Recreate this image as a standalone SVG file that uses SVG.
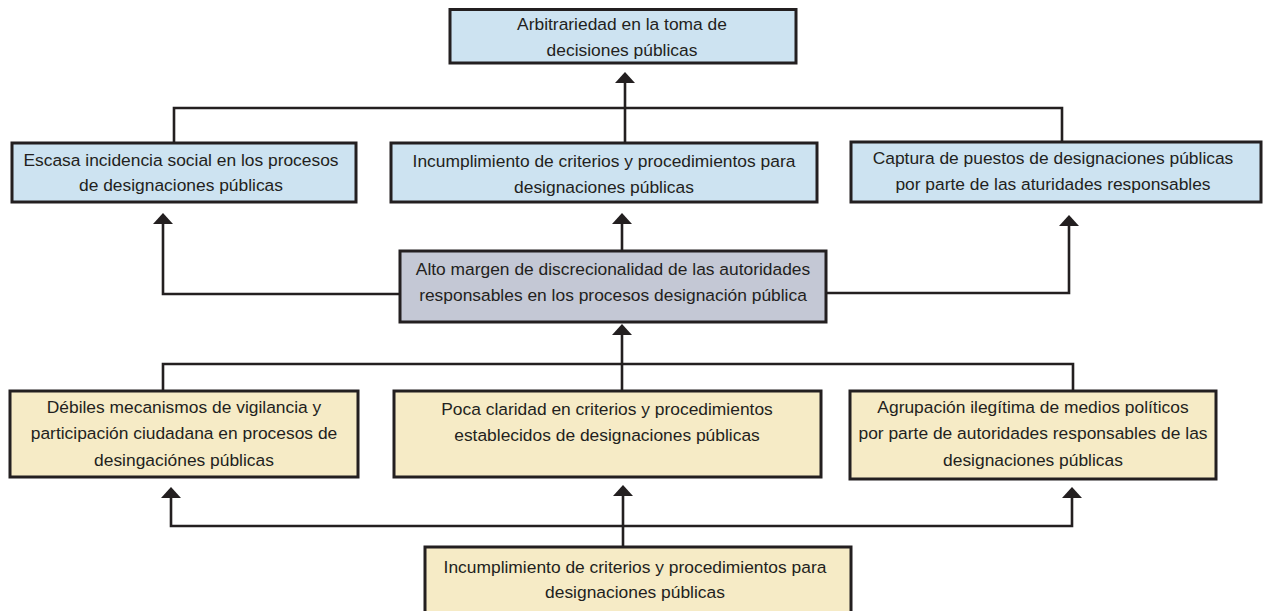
<svg xmlns="http://www.w3.org/2000/svg" width="1263" height="611" viewBox="0 0 1263 611">
<defs>
<style>
.box{stroke:#231f20;stroke-width:3}
.blue{fill:#cde3f1}
.gray{fill:#c4c8d5}
.yel{fill:#f6ebc6}
text{font-family:"Liberation Sans",Arial,sans-serif;font-size:17.4px;fill:#231f20;text-anchor:middle}
.con{fill:none;stroke:#231f20;stroke-width:2.6}
</style>
<marker id="ah" viewBox="0 0 11 20" refX="8" refY="10" markerWidth="11" markerHeight="20" markerUnits="userSpaceOnUse" orient="auto-start-reverse">
<path d="M0,0 L11,10 L0,20 Z" fill="#231f20"/>
</marker>
</defs>
<rect width="1263" height="611" fill="#ffffff"/>
<g id="connectors">
<path class="con" d="M174,143 V108 H1062 V143"/>
<path class="con" d="M625,143 V75" marker-end="url(#ah)"/>
<path class="con" d="M622,251 V216" marker-end="url(#ah)"/>
<path class="con" d="M400,294 H163 V216" marker-end="url(#ah)"/>
<path class="con" d="M826,293 H1069 V218" marker-end="url(#ah)"/>
<path class="con" d="M163,391 V364 H1073 V391"/>
<path class="con" d="M622,391 V327" marker-end="url(#ah)"/>
<path class="con" d="M171,490 V526 H1072 V490" marker-start="url(#ah)" marker-end="url(#ah)"/>
<path class="con" d="M623,547 V488" marker-end="url(#ah)"/>
</g>
<g id="n-arbitrariedad">
<rect class="box blue" x="450" y="9.5" width="346" height="53.5"/>
<text x="622" y="30">Arbitrariedad en la toma de</text>
<text x="622" y="56">decisiones públicas</text>
</g>
<g id="n-escasa">
<rect class="box blue" x="12" y="143" width="344" height="59"/>
<text x="181" y="166">Escasa incidencia social en los procesos</text>
<text x="181" y="191">de designaciones públicas</text>
</g>
<g id="n-incumplimiento-top">
<rect class="box blue" x="391" y="143" width="426" height="59"/>
<text x="604" y="167">Incumplimiento de criterios y procedimientos para</text>
<text x="604" y="193">designaciones públicas</text>
</g>
<g id="n-captura">
<rect class="box blue" x="851" y="142" width="410" height="60"/>
<text x="1053" y="164">Captura de puestos de designaciones públicas</text>
<text x="1053" y="190">por parte de las aturidades responsables</text>
</g>
<g id="n-alto-margen">
<rect class="box gray" x="400" y="251" width="426" height="71"/>
<text x="613" y="275">Alto margen de discrecionalidad de las autoridades</text>
<text x="613" y="301">responsables en los procesos designación pública</text>
</g>
<g id="n-debiles">
<rect class="box yel" x="10" y="391" width="348" height="86"/>
<text x="184" y="413">Débiles mecanismos de vigilancia y</text>
<text x="184" y="439">participación ciudadana en procesos de</text>
<text x="184" y="466">desingaciónes públicas</text>
</g>
<g id="n-poca">
<rect class="box yel" x="394" y="391" width="427" height="86"/>
<text x="607" y="415">Poca claridad en criterios y procedimientos</text>
<text x="607" y="441">establecidos de designaciones públicas</text>
</g>
<g id="n-agrupacion">
<rect class="box yel" x="850" y="391" width="366" height="88"/>
<text x="1033" y="413">Agrupación ilegítima de medios políticos</text>
<text x="1033" y="439">por parte de autoridades responsables de las</text>
<text x="1033" y="466">designaciones públicas</text>
</g>
<g id="n-incumplimiento-bottom">
<rect class="box yel" x="425" y="547" width="426" height="80"/>
<text x="635" y="573">Incumplimiento de criterios y procedimientos para</text>
<text x="635" y="598">designaciones públicas</text>
</g>
</svg>
